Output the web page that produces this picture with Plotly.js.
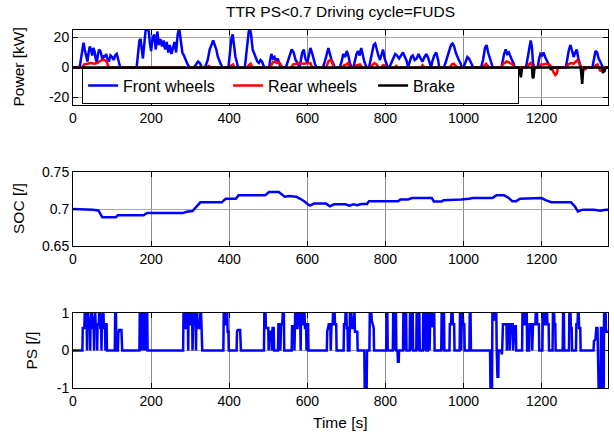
<!DOCTYPE html>
<html>
<head>
<meta charset="utf-8">
<script src="https://cdn.plot.ly/plotly-3.0.1.min.js"></script>
<style>html,body{margin:0;padding:0;background:#fff;}#chart{width:614px;height:432px;}</style>
</head>
<body>
<div id="chart"></div>
<script>
// ---------- data ----------
const xTicks = [0, 200, 400, 600, 800, 1000, 1200];
const powerTicks = [-20, 0, 20];
const socTicks = [0.65, 0.7, 0.75];
const psTicks = [-1, 0, 1];

// Front wheels power [kW]
const tFront = [0,17,20,24,27,30,34,37,40,43,46,49,52,55,58,61,64,67,70,73,76,79,82,85,88,92,96,100,104,108,112,116,119,121,
163,167,170,173,176,179,182,186,190,194,197,200,204,208,212,216,220,224,228,232,236,240,244,248,252,256,260,264,268,272,276,280,284,288,292,296,299,
310,315,320,325,330,
338,345,350,355,359,363,367,371,375,379,383,
398,400,403,406,409,412,416,420,423,
440,442,446,450,453,456,460,464,468,472,476,480,484,488,492,
502,505,508,512,516,520,524,528,532,
545,550,555,560,565,570,575,580,583,587,591,595,600,604,608,612,616,620,624,
640,645,650,654,658,662,666,670,
683,688,692,697,701,705,709,713,
718,722,726,730,734,738,742,746,750,753,
758,762,766,770,774,778,782,786,790,794,798,802,806,
810,815,820,825,830,835,840,845,850,855,858,862,866,870,875,880,885,890,895,900,905,910,914,917,920,925,930,935,938,
950,955,962,968,972,976,980,984,988,992,996,
1000,1005,1010,1014,1018,1022,1025,
1045,1050,1055,1059,1063,1067,1071,1075,
1097,1100,1104,1108,1112,1116,1120,1124,1128,1131,
1160,1164,1168,1172,1175,1178,1181,
1190,1193,1197,1201,1205,1209,1213,1218,1222,
1262,1266,1270,1274,1278,1282,1286,1290,1294,1298,1301,
1330,1334,1338,1342,1346,1350,1354,1357,1370];
const pFront = [0,0,5,14,16.5,12,6,4,10,14,12,8,13,11,6,3,9,12,11,7,5,8,7,9,6,4,8,7,5,8,9,5,1,0,
0,10,18,19,10,6,14,25,26,24,16,11,20,22,12,24,15,19,14,18,12,17,10,15,9,13,17,10,22,26,18,10,8,5,3,1,0,
0,2,4,3,0,
0,5,12,16,18,15,12,7,4,2,0,
0,5,14,20,22,14,7,3,0,
0,5,15,24,26,22,12,9,7,4,3,5,4,1,0,
0,5,9,6,7,4,6,3,0,
0,4,8,12,10,5,3,0,4,10,12,6,3,9,13,10,5,2,0,
0,4,10,13,9,5,3,0,
0,4,9,7,11,8,3,0,
0,4,9,11,8,13,8,4,1,0,
0,5,10,15,16,11,8,5,9,12,6,3,0,
0,3,6,9,8,6,8,10,7,4,0,3,7,8,5,6,9,6,4,7,9,6,2,0,4,8,10,5,0,
0,4,10,15,16,14,10,7,5,3,0,
0,3,7,6,4,1,0,
0,5,13,15,10,6,2,0,
0,5,9,12,9,10,7,5,3,0,
0,6,12,18,14,3,0,
0,5,9,8,10,7,5,2,0,
0,6,12,15,11,7,10,12,6,2,0,
0,6,11,10,6,4,2,0,0];

// Rear wheels power [kW]
const tRear = [0,25,28,35,45,55,62,68,74,80,86,90,93,120,122,125,170,173,178,181,286,288,292,296,300,345,348,352,356,380,383,386,
404,406,410,413,447,450,455,460,470,472,475,505,508,512,518,522,527,532,536,560,563,570,580,590,600,608,612,
648,651,655,660,664,667,690,694,700,705,708,712,715,722,725,735,740,760,765,772,778,782,790,795,798,
818,820,823,828,835,840,866,870,874,892,895,900,922,925,928,965,970,975,980,984,1005,1008,1012,
1040,1044,1048,1052,1058,1062,1066,1098,1101,1106,1110,1115,1120,1126,1130,1134,1138,
1163,1167,1172,1176,1180,1195,1198,1205,1212,1220,1226,1230,1235,1239,1242,
1264,1268,1275,1282,1288,1292,1296,1300,1310,1313,1316,1336,1339,1343,1346,1350,1354,1358,1370];
const pRear = [0,0,2,2.5,3,2.5,3,4,5,5,4,1,0,0,-0.8,0,0,-1.5,-1.5,0,0,-1.8,-2,-1,0,0,1.5,-1,0,0,-1,0,
0,1.5,2,0,0,1.5,2.5,0,0,-1,0,0,2,3.5,4,3,3.5,2,0,0,2,2.5,3,2.5,3,3,0,
0,2,4.5,5,3,0,0,1.5,2,3,0,-1,0,0,1.5,2,0,0,1.5,3,2,0,0,2,0,
0,-1,0,1,-1.5,0,0,-2,0,0,1.5,0,0,-1.5,0,0,2,2.5,1,0,0,-1.5,0,
0,-1,0,1.5,2.5,1,0,0,2.5,3,4,3.5,3,2,0,-2,0,
0,2,3,1,0,0,2,2,2.5,2,0,-3,-5,-4,0,
0,2,3,2.5,4,5,3,0,0,-1,0,0,1.5,2,0,-2,-2.5,0,0];

// Brake power [kW]
const tBrake = [0,33,35,37,56,58,60,117,119,121,176,178,181,288,291,294,298,301,305,381,384,388,420,422,425,490,493,497,
549,552,556,620,622,625,668,670,673,711,713,716,752,755,758,803,806,809,855,858,861,914,916,919,935,938,941,
994,997,1000,1022,1025,1028,1071,1074,1077,1142,1145,1147,1150,1175,1177,1179,1182,1221,1224,1227,
1300,1302,1304,1306,1308,1355,1358,1361,1364,1370];
const pBrake = [0,0,-2,0,0,-1.8,0,0,-2.2,0,0,-1.8,0,0,-2,0,0,-2,0,0,-2,0,0,-1.5,0,0,-2,0,
0,-1.8,0,0,-2,0,0,-1.5,0,0,-2,0,0,-2,0,0,-2,0,0,-1.5,0,0,-1.5,0,0,-2,0,
0,-2,0,0,-1.5,0,0,-2.5,0,0,-5,-6.5,0,0,-6.5,-7,0,0,-1.5,0,
0,-8,-11,-3,0,0,-3,-2.5,0,0];

// State of charge [/]
const tSoc = [0,40,50,65,75,85,110,115,181,186,190,281,291,306,316,326,381,391,417,424,492,502,527,534,542,552,572,582,592,602,607,617,
648,658,668,698,708,718,728,738,753,758,833,838,858,868,919,924,944,949,989,994,1014,1024,1074,1084,1104,1115,1125,1135,1145,
1185,1190,1200,1210,1225,1275,1285,1293,1305,1335,1350,1365,1370];
const soc = [0.700,0.700,0.699,0.698,0.689,0.689,0.689,0.6917,0.6917,0.6936,0.6945,0.6945,0.6963,0.6972,0.7037,0.709,0.709,0.7138,0.7138,0.7184,0.7184,0.723,0.723,0.720,0.7165,0.7175,0.7165,0.7138,0.7106,0.706,0.7046,0.7073,
0.7073,0.7037,0.7064,0.7064,0.7046,0.7064,0.7050,0.7068,0.7068,0.7106,0.7106,0.7129,0.7129,0.7147,0.7147,0.7101,0.7101,0.7119,0.7119,0.7129,0.7138,0.7147,0.7147,0.7184,0.7184,0.7152,0.7106,0.7106,0.7138,
0.7138,0.7147,0.7147,0.7119,0.7092,0.7092,0.7037,0.6968,0.6991,0.6991,0.6977,0.699,0.699];

// Power split PS [/]
const tPs = [0,24,25,29,30,32,33,35,36,37,39,40,43,44,45,47,49,50,53,54,55,57,58,61,62,63,66,67,69,70,72,73,74,76,78,79,82,83,84,86,87,
107,108,110,111,115,116,118,124,126,
170,171,173,174,176,177,179,180,182,183,186,187,188,190,191,
282,283,286,287,290,291,294,295,296,298,299,302,303,305,306,308,310,311,314,315,316,318,319,324,326,328,329,331,
385,386,388,389,392,393,395,396,398,399,419,420,422,428,430,
489,490,493,494,500,501,503,508,509,511,514,515,525,526,530,531,533,536,537,540,541,
560,561,566,567,569,572,573,575,576,578,579,582,583,584,586,587,590,591,593,594,597,598,599,602,603,
650,651,655,659,660,662,665,666,670,671,674,675,693,694,697,698,700,701,703,704,708,709,713,714,718,719,721,722,728,729,
746,747,752,753,759,760,764,765,770,771,802,803,805,806,819,820,822,823,825,827,828,831,832,834,835,
845,846,848,849,851,853,854,862,863,865,866,868,870,871,879,880,882,883,885,887,888,896,897,899,900,902,904,905,
909,910,912,913,915,917,918,922,923,925,926,943,944,947,948,950,951,964,965,968,969,972,973,976,977,
990,991,993,994,996,998,999,1002,1003,1015,1016,1018,1019,
1068,1069,1073,1074,1078,1079,1082,1084,1085,1087,1089,1090,1097,1098,1099,1101,1110,1111,1112,1117,1118,1121,1126,1127,1130,1134,1135,
1150,1151,1154,1155,1158,1159,1162,1163,1168,1169,1175,1176,1178,1184,1185,1188,1189,1193,1194,
1202,1203,1206,1207,1211,1212,1214,1215,1218,1219,1228,1229,1232,1233,1235,1236,1254,1255,1257,1258,
1270,1271,1274,1275,1277,1278,1288,1289,1292,1293,1295,1296,1299,1300,
1333,1334,1338,1340,1343,1344,1346,1351,1352,1354,1355,1359,1360,1364,1365,1370];
const ps = [0,0,0.6,0.6,1,1,0.7,0.7,0,1,1,0.6,0.6,0,0.7,1,1,0.6,0.6,0,0.8,1,0.7,0.7,0,0.7,0.7,1,1,0.6,0.6,0,0.7,1,1,0.6,0.6,0,0.7,0.7,0,
0,1,1,0,0,0.45,0.55,0.55,0,
0,1,0,1,0,1,0,1,0,1,1,0,1,1,0,
0,1,1,0.6,0.6,1,1,0,1,1,0.7,0.7,1,1,0,1,1,0.7,0.7,0,1,1,0.6,0.6,1,1,0.5,0,
0,1,1,0.7,0.7,1,1,0.5,0.5,0,0,0.5,0.55,0.55,0,
0,1,1,0.6,0.6,0,0.5,0.5,0,0.6,0.6,0,0,0.7,0.7,0,0.7,0.7,1,1,0,
0,0.65,0.65,0,1,1,0.6,0.6,1,1,0.7,0.7,0,1,1,0.7,0.7,1,1,0.6,0.6,0,0.7,0.7,0,
0,0.5,0.7,0.7,0,0.7,0.7,1,1,0.7,0.7,0,0,0.7,0.7,1,1,0.6,0.6,0,0,1,1,0.6,0.6,0.8,1,0.5,0.5,0,
0,-1,-1,0,0,1,1,0.8,0.6,0,0,1,1,0,0,1,1,0,1,1,0,0,-0.3,-0.3,0,
0,1,1,0,1,1,0,0,1,1,0,1,1,0,0,1,1,0,1,1,0,0,1,1,0,1,1,0,
0,1,1,0,1,1,0.65,0.65,1,1,0,0,1,1,0,1,0,0,0.7,0.7,1,1,0.7,0.7,0,
0,1,1,0,1,1,0.7,0.7,0,0,1,1,0,
0,-1,-1,1,1,0.8,1,1,0,-0.7,-0.7,0,0,-0.1,0,0.7,0.7,0,0.7,0.7,0,0.7,0.7,0,0.65,0.65,0,
0,1,1,0.7,0.7,1,1,0,0,0.7,0.7,0,0.7,0.7,1,1,0.7,0.7,0,
0,1,1,0.7,0.7,1,1,0.7,0.7,0,0,1,1,0.7,0.7,0,0,1,1,0,
0,1,1,0.6,0.6,0,0,0.7,0.7,1,1,0.6,0.6,0,
0,0.25,0.3,0.6,0.6,0,-1,-1,0.6,0.6,-1,-1,1,1,0.5,0.5];

// ---------- chart ----------
const blue = 'rgb(0,0,255)';
const font = 'Arial, "Liberation Sans", sans-serif';
const lw = 2.5;
const labelSize = 15.5;

const traces = [
  {x: tFront, y: pFront, type: 'scatter', mode: 'lines', name: 'Front wheels', line: {color: blue, width: lw}, xaxis: 'x', yaxis: 'y'},
  {x: tRear, y: pRear, type: 'scatter', mode: 'lines', name: 'Rear wheels', line: {color: 'rgb(255,0,0)', width: lw}, xaxis: 'x', yaxis: 'y'},
  {x: tBrake, y: pBrake, type: 'scatter', mode: 'lines', name: 'Brake', line: {color: 'black', width: lw}, xaxis: 'x', yaxis: 'y'},
  {x: tSoc, y: soc, type: 'scatter', mode: 'lines', name: 'SOC', showlegend: false, line: {color: blue, width: lw}, xaxis: 'x2', yaxis: 'y2'},
  {x: tPs, y: ps, type: 'scatter', mode: 'lines', name: 'PS', showlegend: false, line: {color: blue, width: lw}, xaxis: 'x3', yaxis: 'y3'}
];

function xa(anchor) {
  return {anchor: anchor, domain: [0, 1], range: [0, 1370], tickvals: xTicks, ticktext: xTicks.map(String),
    showline: true, linecolor: 'black', linewidth: 1, mirror: 'ticks', ticks: 'inside', ticklen: 5, tickcolor: 'black',
    showgrid: true, gridcolor: '#8c8c8c', gridwidth: 1, zeroline: false, tickfont: {size: 14, family: font, color: 'black'}};
}
function ya(anchor, domain, range, tv) {
  return {anchor: anchor, domain: domain, range: range, tickvals: tv, ticktext: tv.map(String),
    showline: true, linecolor: 'black', linewidth: 1, mirror: 'ticks', ticks: 'inside', ticklen: 5, tickcolor: 'black',
    showgrid: true, gridcolor: '#a8a8a8', gridwidth: 1, zeroline: false, tickfont: {size: 14, family: font, color: 'black'}};
}

const layout = {
  width: 614, height: 432,
  margin: {l: 73, r: 6, t: 30, b: 44},
  paper_bgcolor: 'white', plot_bgcolor: 'white',
  font: {family: font, size: 14, color: 'black'},
  title: {text: 'TTR PS&lt;0.7 Driving cycle=FUDS', x: 0.5, xref: 'paper', xanchor: 'center', y: 1 - 12/432, yref: 'container', yanchor: 'middle', font: {size: labelSize, family: font, color: 'black'}},
  showlegend: true,
  legend: {orientation: 'h', x: 0.017, y: 0.895, xanchor: 'left', yanchor: 'top', bgcolor: 'white', bordercolor: 'black', borderwidth: 1,
    font: {size: 16, family: font, color: 'black'}, entrywidth: 100, entrywidthmode: 'pixels', traceorder: 'normal'},
  xaxis: xa('y'),
  yaxis: ya('x', [0.7905, 1], [-25, 25], powerTicks),
  xaxis2: xa('y2'),
  yaxis2: ya('x2', [0.3966, 0.6034], [0.65, 0.75], socTicks),
  xaxis3: xa('y3'),
  yaxis3: ya('x3', [0, 0.2095], [-1, 1], psTicks),
  annotations: [
    {text: 'Power [kW]', xref: 'paper', yref: 'paper', x: (18 - 73) / 535, y: 0.8953, textangle: -90, showarrow: false, xanchor: 'center', yanchor: 'middle', font: {size: labelSize}},
    {text: 'SOC [/]', xref: 'paper', yref: 'paper', x: (18 - 73) / 535, y: 0.5, textangle: -90, showarrow: false, xanchor: 'center', yanchor: 'middle', font: {size: labelSize}},
    {text: 'PS [/]', xref: 'paper', yref: 'paper', x: (32 - 73) / 535, y: 0.1047, textangle: -90, showarrow: false, xanchor: 'center', yanchor: 'middle', font: {size: labelSize}},
    {text: 'Time [s]', xref: 'paper', yref: 'paper', x: 0.5, y: (388 - 422) / 358, showarrow: false, xanchor: 'center', yanchor: 'middle', font: {size: labelSize}}
  ]
};

Plotly.newPlot('chart', traces, layout, {staticPlot: true, displayModeBar: false});
</script>
</body>
</html>
